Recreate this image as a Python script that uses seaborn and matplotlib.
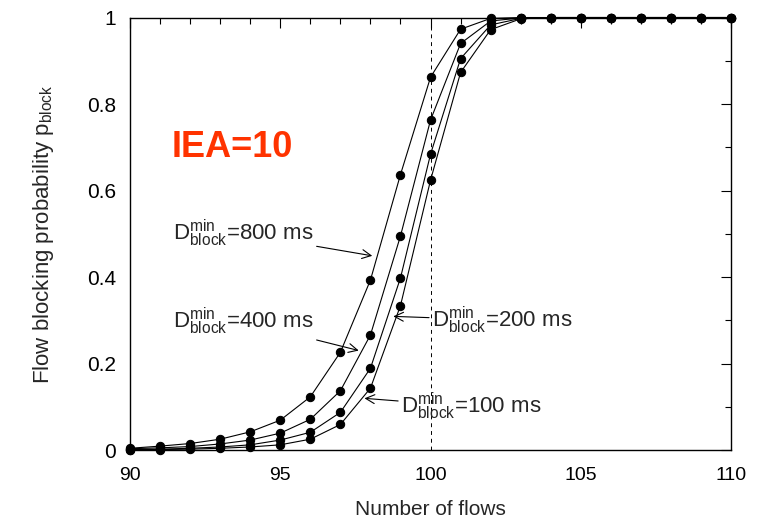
import matplotlib
matplotlib.use("Agg")

import matplotlib.pyplot as plt
import matplotlib.ticker as mticker
import numpy as np
import pandas as pd
import seaborn as sns

flows = list(range(90, 111))

p_800 = [0.004, 0.009, 0.015, 0.025, 0.042, 0.069, 0.123, 0.226, 0.393, 0.637, 0.862,
         0.973, 0.998, 1.0, 1.0, 1.0, 1.0, 1.0, 1.0, 1.0, 1.0]
p_400 = [0.003, 0.005, 0.008, 0.014, 0.023, 0.039, 0.071, 0.137, 0.266, 0.495, 0.763,
         0.940, 0.992, 0.999, 1.0, 1.0, 1.0, 1.0, 1.0, 1.0, 1.0]
p_200 = [0.001, 0.002, 0.004, 0.007, 0.012, 0.023, 0.041, 0.087, 0.189, 0.398, 0.684,
         0.905, 0.983, 0.998, 1.0, 1.0, 1.0, 1.0, 1.0, 1.0, 1.0]
p_100 = [0.001, 0.001, 0.002, 0.004, 0.007, 0.012, 0.025, 0.059, 0.143, 0.334, 0.624,
         0.873, 0.972, 0.997, 1.0, 1.0, 1.0, 1.0, 1.0, 1.0, 1.0]

series = {"800 ms": p_800, "400 ms": p_400, "200 ms": p_200, "100 ms": p_100}

df = pd.concat(
    [pd.DataFrame({"flows": flows, "p": vals, "delay": name}) for name, vals in series.items()],
    ignore_index=True,
)

sns.set_theme(style="white")
plt.rcParams["font.family"] = ["Liberation Sans", "DejaVu Sans"]
plt.rcParams["mathtext.fontset"] = "custom"
plt.rcParams["mathtext.rm"] = "Liberation Sans"

fig = plt.figure(figsize=(7.65, 5.2), dpi=100)
ax = fig.add_axes([0.170, 0.1346, 0.7856, 0.8317])

sns.lineplot(
    data=df, x="flows", y="p", hue="delay", palette=["black"] * 4,
    marker="o", markersize=6, markeredgecolor="black", linewidth=0.8,
    legend=False, ax=ax, clip_on=False, zorder=3,
)

ax.axvline(100, color="black", linestyle=(0, (4, 4)), linewidth=0.7)

ax.set_xlim(90, 110)
ax.set_ylim(0, 1)
ax.xaxis.set_major_locator(mticker.MultipleLocator(5))
ax.xaxis.set_minor_locator(mticker.MultipleLocator(1))
ax.yaxis.set_major_locator(mticker.MultipleLocator(0.2))
ax.yaxis.set_minor_locator(mticker.MultipleLocator(0.1))
ax.yaxis.set_major_formatter(mticker.FuncFormatter(lambda v, p: f"{v:g}"))
ax.tick_params(which="both", direction="in", top=True, right=True, colors="black")
ax.tick_params(which="major", length=7, width=0.8)
ax.tick_params(which="minor", length=4, width=0.8)
ax.tick_params(axis="x", labelsize=14, pad=12)
ax.tick_params(axis="y", labelsize=15, pad=10)
for s in ax.spines.values():
    s.set_color("black")
    s.set_linewidth(1.0)

ax.set_xlabel("Number of flows", fontsize=15, labelpad=12)
ax.set_ylabel(r"Flow blocking probability p$_{\mathregular{block}}$", fontsize=16, labelpad=22)

ax.text(91.4, 0.70, "IEA=10", color="#ff3300", fontsize=26, fontweight="bold",
        va="center", ha="left")

D = r"D$^{\mathregular{min}}_{\mathregular{block}}$"
arrow = dict(arrowstyle="->", color="black", linewidth=0.8, shrinkA=0, shrinkB=0)
ax.annotate(D + "=800 ms", xy=(98.06, 0.449), xytext=(96.1, 0.50),
            ha="right", va="center", fontsize=16, arrowprops=arrow)
ax.annotate(D + "=400 ms", xy=(97.61, 0.230), xytext=(96.1, 0.297),
            ha="right", va="center", fontsize=16, arrowprops=arrow)
ax.annotate(D + "=200 ms", xy=(98.76, 0.309), xytext=(100.06, 0.30),
            ha="left", va="center", fontsize=16, arrowprops=arrow)
ax.annotate(D + "=100 ms", xy=(97.8, 0.1195), xytext=(99.03, 0.10),
            ha="left", va="center", fontsize=16, arrowprops=arrow)

fig.savefig("out.png", dpi=100)
